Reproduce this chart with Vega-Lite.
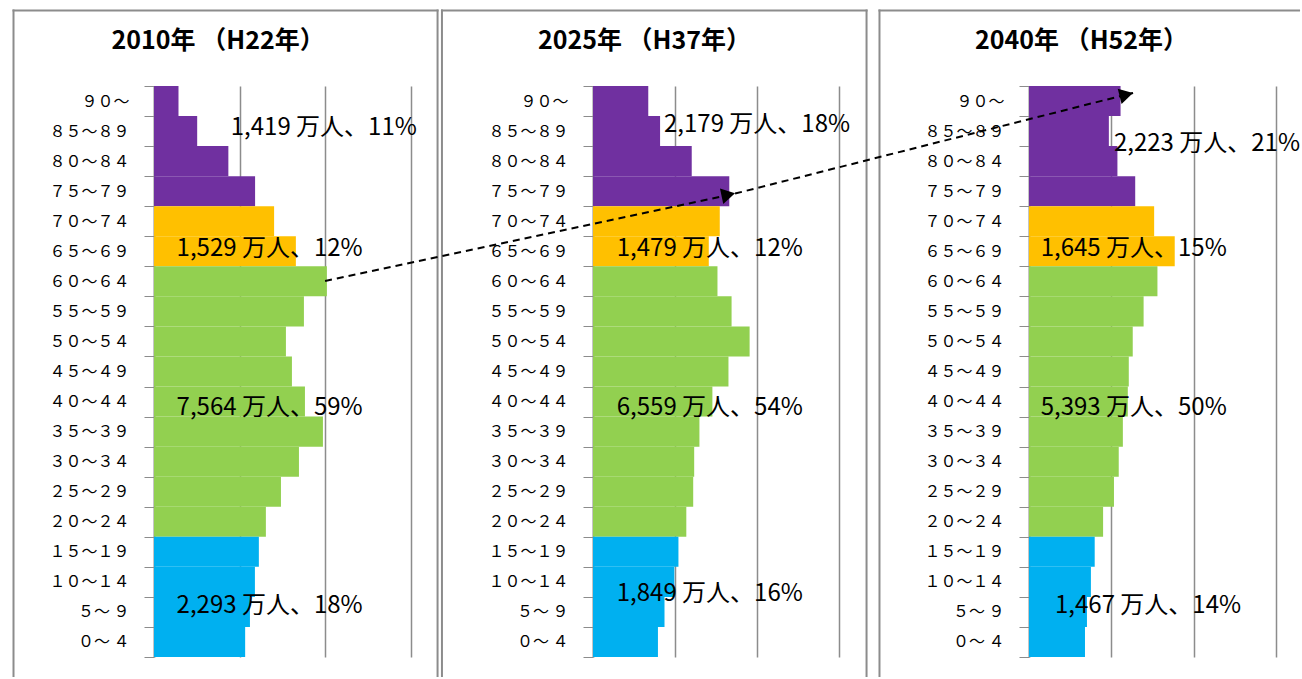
{
  "$schema": "https://vega.github.io/schema/vega-lite/v6.json",
  "padding": {"left": 12, "top": 9, "right": 0, "bottom": 0},
  "background": "white",
  "spacing": 20,
  "bounds": "flush",
  "config": {"view": {"stroke": null}},
  "datasets": {
    "pop": [
      {"year": 2010, "age": "９０～", "g": "75歳以上", "v": 143},
      {"year": 2010, "age": "８５～８９", "g": "75歳以上", "v": 252},
      {"year": 2010, "age": "８０～８４", "g": "75歳以上", "v": 434},
      {"year": 2010, "age": "７５～７９", "g": "75歳以上", "v": 590},
      {"year": 2010, "age": "７０～７４", "g": "65～74歳", "v": 701},
      {"year": 2010, "age": "６５～６９", "g": "65～74歳", "v": 828},
      {"year": 2010, "age": "６０～６４", "g": "20～64歳", "v": 1009},
      {"year": 2010, "age": "５５～５９", "g": "20～64歳", "v": 875},
      {"year": 2010, "age": "５０～５４", "g": "20～64歳", "v": 770},
      {"year": 2010, "age": "４５～４９", "g": "20～64歳", "v": 805},
      {"year": 2010, "age": "４０～４４", "g": "20～64歳", "v": 881},
      {"year": 2010, "age": "３５～３９", "g": "20～64歳", "v": 986},
      {"year": 2010, "age": "３０～３４", "g": "20～64歳", "v": 846},
      {"year": 2010, "age": "２５～２９", "g": "20～64歳", "v": 741},
      {"year": 2010, "age": "２０～２４", "g": "20～64歳", "v": 653},
      {"year": 2010, "age": "１５～１９", "g": "0～19歳", "v": 612},
      {"year": 2010, "age": "１０～１４", "g": "0～19歳", "v": 589},
      {"year": 2010, "age": "５～ ９", "g": "0～19歳", "v": 560},
      {"year": 2010, "age": "０～ ４", "g": "0～19歳", "v": 532},
      {"year": 2025, "age": "９０～", "g": "75歳以上", "v": 337},
      {"year": 2025, "age": "８５～８９", "g": "75歳以上", "v": 409},
      {"year": 2025, "age": "８０～８４", "g": "75歳以上", "v": 602},
      {"year": 2025, "age": "７５～７９", "g": "75歳以上", "v": 831},
      {"year": 2025, "age": "７０～７４", "g": "65～74歳", "v": 773},
      {"year": 2025, "age": "６５～６９", "g": "65～74歳", "v": 706},
      {"year": 2025, "age": "６０～６４", "g": "20～64歳", "v": 759},
      {"year": 2025, "age": "５５～５９", "g": "20～64歳", "v": 845},
      {"year": 2025, "age": "５０～５４", "g": "20～64歳", "v": 955},
      {"year": 2025, "age": "４５～４９", "g": "20～64歳", "v": 826},
      {"year": 2025, "age": "４０～４４", "g": "20～64歳", "v": 728},
      {"year": 2025, "age": "３５～３９", "g": "20～64歳", "v": 649},
      {"year": 2025, "age": "３０～３４", "g": "20～64歳", "v": 617},
      {"year": 2025, "age": "２５～２９", "g": "20～64歳", "v": 611},
      {"year": 2025, "age": "２０～２４", "g": "20～64歳", "v": 569},
      {"year": 2025, "age": "１５～１９", "g": "0～19歳", "v": 521},
      {"year": 2025, "age": "１０～１４", "g": "0～19歳", "v": 496},
      {"year": 2025, "age": "５～ ９", "g": "0～19歳", "v": 436},
      {"year": 2025, "age": "０～ ４", "g": "0～19歳", "v": 396},
      {"year": 2040, "age": "９０～", "g": "75歳以上", "v": 556},
      {"year": 2040, "age": "８５～８９", "g": "75歳以上", "v": 485},
      {"year": 2040, "age": "８０～８４", "g": "75歳以上", "v": 537},
      {"year": 2040, "age": "７５～７９", "g": "75歳以上", "v": 645},
      {"year": 2040, "age": "７０～７４", "g": "65～74歳", "v": 760},
      {"year": 2040, "age": "６５～６９", "g": "65～74歳", "v": 885},
      {"year": 2040, "age": "６０～６４", "g": "20～64歳", "v": 780},
      {"year": 2040, "age": "５５～５９", "g": "20～64歳", "v": 696},
      {"year": 2040, "age": "５０～５４", "g": "20～64歳", "v": 630},
      {"year": 2040, "age": "４５～４９", "g": "20～64歳", "v": 606},
      {"year": 2040, "age": "４０～４４", "g": "20～64歳", "v": 600},
      {"year": 2040, "age": "３５～３９", "g": "20～64歳", "v": 570},
      {"year": 2040, "age": "３０～３４", "g": "20～64歳", "v": 545},
      {"year": 2040, "age": "２５～２９", "g": "20～64歳", "v": 516},
      {"year": 2040, "age": "２０～２４", "g": "20～64歳", "v": 450},
      {"year": 2040, "age": "１５～１９", "g": "0～19歳", "v": 399},
      {"year": 2040, "age": "１０～１４", "g": "0～19歳", "v": 376},
      {"year": 2040, "age": "５～ ９", "g": "0～19歳", "v": 352},
      {"year": 2040, "age": "０～ ４", "g": "0～19歳", "v": 340}
    ],
    "notes": [
      {"year": 2010, "x": 448, "r": 17.6, "label": "1,419 万人、11%"},
      {"year": 2010, "x": 132, "r": 13.58, "label": "1,529 万人、12%"},
      {"year": 2010, "x": 132, "r": 8.3, "label": "7,564 万人、59%"},
      {"year": 2010, "x": 132, "r": 1.7, "label": "2,293 万人、18%"},
      {"year": 2025, "x": 433, "r": 17.7, "label": "2,179 万人、18%"},
      {"year": 2025, "x": 145, "r": 13.58, "label": "1,479 万人、12%"},
      {"year": 2025, "x": 145, "r": 8.3, "label": "6,559 万人、54%"},
      {"year": 2025, "x": 145, "r": 2.1, "label": "1,849 万人、16%"},
      {"year": 2040, "x": 516, "r": 17.07, "label": "2,223 万人、21%"},
      {"year": 2040, "x": 71, "r": 13.58, "label": "1,645 万人、15%"},
      {"year": 2040, "x": 71, "r": 8.3, "label": "5,393 万人、50%"},
      {"year": 2040, "x": 158, "r": 1.7, "label": "1,467 万人、14%"}
    ],
    "titles": [
      {"year": 2010, "x": 374, "r": 20.5, "label": "2010年 （H22年）"},
      {"year": 2025, "x": 314, "r": 20.5, "label": "2025年 （H37年）"},
      {"year": 2040, "x": 319, "r": 20.5, "label": "2040年 （H52年）"}
    ],
    "frames": [
      {"year": 2010, "x": -820, "r": -0.632, "x2": -820, "r2": 21.51},
      {"year": 2010, "x": -820, "r": 21.51, "x2": 1655, "r2": 21.51},
      {"year": 2010, "x": 1655, "r": 21.51, "x2": 1655, "r2": -0.632},
      {"year": 2025, "x": -921, "r": -0.632, "x2": -921, "r2": 21.51},
      {"year": 2025, "x": -921, "r": 21.51, "x2": 1668, "r2": 21.51},
      {"year": 2025, "x": 1668, "r": 21.51, "x2": 1668, "r2": -0.632},
      {"year": 2040, "x": -908, "r": -0.632, "x2": -908, "r2": 21.51},
      {"year": 2040, "x": -908, "r": 21.51, "x2": 1640, "r2": 21.51}
    ],
    "arrow": [
      {"x": -4275, "r": 12.51, "x2": -1785, "r2": 15.42},
      {"x": -1785, "r": 15.42, "x2": 632, "r2": 18.77}
    ]
  },
  "hconcat": [
    {
      "width": 419, "height": 571,
      "resolve": {"scale": {"y": "independent"}},
      "layer": [
        {"data": {"name": "frames"}, "transform": [{"filter": "datum.year == 2010"}],
         "mark": {"type": "rule", "color": "#8c8c8c", "strokeWidth": 2, "strokeCap": "square"},
         "encoding": {
           "x": {"field": "x", "type": "quantitative", "scale": {"domain": [0, 2445.5], "nice": false, "zero": false}, "axis": {"title": null, "labels": false, "ticks": false, "domain": false, "grid": true, "values": [500, 1000, 1500], "gridColor": "#8c8c8c", "gridWidth": 1.5}},
           "x2": {"field": "x2"},
           "y": {"field": "r", "type": "quantitative", "scale": {"domain": [0, 19], "nice": false, "zero": false}, "axis": null},
           "y2": {"field": "r2"}}},
        {"data": {"name": "pop"}, "transform": [{"filter": "datum.year == 2010"}],
         "mark": {"type": "bar"},
         "encoding": {
           "x": {"field": "v", "type": "quantitative", "scale": {"domain": [0, 2445.5], "nice": false, "zero": false}, "axis": {"title": null, "labels": false, "ticks": false, "domain": false, "grid": true, "values": [500, 1000, 1500], "gridColor": "#8c8c8c", "gridWidth": 1.5}},
           "y": {"field": "age", "type": "nominal", "sort": ["９０～", "８５～８９", "８０～８４", "７５～７９", "７０～７４", "６５～６９", "６０～６４", "５５～５９", "５０～５４", "４５～４９", "４０～４４", "３５～３９", "３０～３４", "２５～２９", "２０～２４", "１５～１９", "１０～１４", "５～ ９", "０～ ４"],
                 "scale": {"paddingInner": 0, "paddingOuter": 0},
                 "axis": {"title": null, "tickBand": "extent", "tickSize": 10, "tickColor": "#8c8c8c", "domainColor": "#8c8c8c", "domainWidth": 2, "labelFont": "Noto Sans CJK JP", "labelFontSize": 16, "labelColor": "#000000", "labelPadding": 15}},
           "color": {"field": "g", "type": "nominal", "scale": {"domain": ["75歳以上", "65～74歳", "20～64歳", "0～19歳"], "range": ["#7030A0", "#FFC000", "#92D050", "#00B0F0"]}, "legend": null}}},
        {"data": {"name": "notes"}, "transform": [{"filter": "datum.year == 2010"}],
         "mark": {"type": "text", "align": "left", "baseline": "middle", "font": "Noto Sans CJK JP", "fontSize": 24, "color": "#000000"},
         "encoding": {
           "x": {"field": "x", "type": "quantitative", "scale": {"domain": [0, 2445.5], "nice": false, "zero": false}, "axis": {"title": null, "labels": false, "ticks": false, "domain": false, "grid": true, "values": [500, 1000, 1500], "gridColor": "#8c8c8c", "gridWidth": 1.5}},
           "y": {"field": "r", "type": "quantitative", "scale": {"domain": [0, 19], "nice": false, "zero": false}, "axis": null},
           "text": {"field": "label"}}},
        {"data": {"name": "titles"}, "transform": [{"filter": "datum.year == 2010"}],
         "mark": {"type": "text", "align": "center", "baseline": "middle", "font": "Noto Sans CJK JP", "fontWeight": "bold", "fontSize": 25, "color": "#000000"},
         "encoding": {
           "x": {"field": "x", "type": "quantitative", "scale": {"domain": [0, 2445.5], "nice": false, "zero": false}, "axis": {"title": null, "labels": false, "ticks": false, "domain": false, "grid": true, "values": [500, 1000, 1500], "gridColor": "#8c8c8c", "gridWidth": 1.5}},
           "y": {"field": "r", "type": "quantitative", "scale": {"domain": [0, 19], "nice": false, "zero": false}, "axis": null},
           "text": {"field": "label"}}}
      ]
    },
    {
      "width": 416, "height": 571,
      "resolve": {"scale": {"y": "independent"}},
      "layer": [
        {"data": {"name": "frames"}, "transform": [{"filter": "datum.year == 2025"}],
         "mark": {"type": "rule", "color": "#8c8c8c", "strokeWidth": 2, "strokeCap": "square"},
         "encoding": {
           "x": {"field": "x", "type": "quantitative", "scale": {"domain": [0, 2536.6], "nice": false, "zero": false}, "axis": {"title": null, "labels": false, "ticks": false, "domain": false, "grid": true, "values": [500, 1000, 1500], "gridColor": "#8c8c8c", "gridWidth": 1.5}},
           "x2": {"field": "x2"},
           "y": {"field": "r", "type": "quantitative", "scale": {"domain": [0, 19], "nice": false, "zero": false}, "axis": null},
           "y2": {"field": "r2"}}},
        {"data": {"name": "pop"}, "transform": [{"filter": "datum.year == 2025"}],
         "mark": {"type": "bar"},
         "encoding": {
           "x": {"field": "v", "type": "quantitative", "scale": {"domain": [0, 2536.6], "nice": false, "zero": false}, "axis": {"title": null, "labels": false, "ticks": false, "domain": false, "grid": true, "values": [500, 1000, 1500], "gridColor": "#8c8c8c", "gridWidth": 1.5}},
           "y": {"field": "age", "type": "nominal", "sort": ["９０～", "８５～８９", "８０～８４", "７５～７９", "７０～７４", "６５～６９", "６０～６４", "５５～５９", "５０～５４", "４５～４９", "４０～４４", "３５～３９", "３０～３４", "２５～２９", "２０～２４", "１５～１９", "１０～１４", "５～ ９", "０～ ４"],
                 "scale": {"paddingInner": 0, "paddingOuter": 0},
                 "axis": {"title": null, "tickBand": "extent", "tickSize": 10, "tickColor": "#8c8c8c", "domainColor": "#8c8c8c", "domainWidth": 2, "labelFont": "Noto Sans CJK JP", "labelFontSize": 16, "labelColor": "#000000", "labelPadding": 15}},
           "color": {"field": "g", "type": "nominal", "scale": {"domain": ["75歳以上", "65～74歳", "20～64歳", "0～19歳"], "range": ["#7030A0", "#FFC000", "#92D050", "#00B0F0"]}, "legend": null}}},
        {"data": {"name": "notes"}, "transform": [{"filter": "datum.year == 2025"}],
         "mark": {"type": "text", "align": "left", "baseline": "middle", "font": "Noto Sans CJK JP", "fontSize": 24, "color": "#000000"},
         "encoding": {
           "x": {"field": "x", "type": "quantitative", "scale": {"domain": [0, 2536.6], "nice": false, "zero": false}, "axis": {"title": null, "labels": false, "ticks": false, "domain": false, "grid": true, "values": [500, 1000, 1500], "gridColor": "#8c8c8c", "gridWidth": 1.5}},
           "y": {"field": "r", "type": "quantitative", "scale": {"domain": [0, 19], "nice": false, "zero": false}, "axis": null},
           "text": {"field": "label"}}},
        {"data": {"name": "titles"}, "transform": [{"filter": "datum.year == 2025"}],
         "mark": {"type": "text", "align": "center", "baseline": "middle", "font": "Noto Sans CJK JP", "fontWeight": "bold", "fontSize": 25, "color": "#000000"},
         "encoding": {
           "x": {"field": "x", "type": "quantitative", "scale": {"domain": [0, 2536.6], "nice": false, "zero": false}, "axis": {"title": null, "labels": false, "ticks": false, "domain": false, "grid": true, "values": [500, 1000, 1500], "gridColor": "#8c8c8c", "gridWidth": 1.5}},
           "y": {"field": "r", "type": "quantitative", "scale": {"domain": [0, 19], "nice": false, "zero": false}, "axis": null},
           "text": {"field": "label"}}}
      ]
    },
    {
      "width": 270, "height": 571,
      "resolve": {"scale": {"y": "independent"}},
      "layer": [
        {"data": {"name": "frames"}, "transform": [{"filter": "datum.year == 2040"}],
         "mark": {"type": "rule", "color": "#8c8c8c", "strokeWidth": 2, "strokeCap": "square"},
         "encoding": {
           "x": {"field": "x", "type": "quantitative", "scale": {"domain": [0, 1639.7], "nice": false, "zero": false}, "axis": {"title": null, "labels": false, "ticks": false, "domain": false, "grid": true, "values": [500, 1000, 1500], "gridColor": "#8c8c8c", "gridWidth": 1.5}},
           "x2": {"field": "x2"},
           "y": {"field": "r", "type": "quantitative", "scale": {"domain": [0, 19], "nice": false, "zero": false}, "axis": null},
           "y2": {"field": "r2"}}},
        {"data": {"name": "pop"}, "transform": [{"filter": "datum.year == 2040"}],
         "mark": {"type": "bar"},
         "encoding": {
           "x": {"field": "v", "type": "quantitative", "scale": {"domain": [0, 1639.7], "nice": false, "zero": false}, "axis": {"title": null, "labels": false, "ticks": false, "domain": false, "grid": true, "values": [500, 1000, 1500], "gridColor": "#8c8c8c", "gridWidth": 1.5}},
           "y": {"field": "age", "type": "nominal", "sort": ["９０～", "８５～８９", "８０～８４", "７５～７９", "７０～７４", "６５～６９", "６０～６４", "５５～５９", "５０～５４", "４５～４９", "４０～４４", "３５～３９", "３０～３４", "２５～２９", "２０～２４", "１５～１９", "１０～１４", "５～ ９", "０～ ４"],
                 "scale": {"paddingInner": 0, "paddingOuter": 0},
                 "axis": {"title": null, "tickBand": "extent", "tickSize": 10, "tickColor": "#8c8c8c", "domainColor": "#8c8c8c", "domainWidth": 2, "labelFont": "Noto Sans CJK JP", "labelFontSize": 16, "labelColor": "#000000", "labelPadding": 15}},
           "color": {"field": "g", "type": "nominal", "scale": {"domain": ["75歳以上", "65～74歳", "20～64歳", "0～19歳"], "range": ["#7030A0", "#FFC000", "#92D050", "#00B0F0"]}, "legend": null}}},
        {"data": {"name": "notes"}, "transform": [{"filter": "datum.year == 2040"}],
         "mark": {"type": "text", "align": "left", "baseline": "middle", "font": "Noto Sans CJK JP", "fontSize": 24, "color": "#000000"},
         "encoding": {
           "x": {"field": "x", "type": "quantitative", "scale": {"domain": [0, 1639.7], "nice": false, "zero": false}, "axis": {"title": null, "labels": false, "ticks": false, "domain": false, "grid": true, "values": [500, 1000, 1500], "gridColor": "#8c8c8c", "gridWidth": 1.5}},
           "y": {"field": "r", "type": "quantitative", "scale": {"domain": [0, 19], "nice": false, "zero": false}, "axis": null},
           "text": {"field": "label"}}},
        {"data": {"name": "titles"}, "transform": [{"filter": "datum.year == 2040"}],
         "mark": {"type": "text", "align": "center", "baseline": "middle", "font": "Noto Sans CJK JP", "fontWeight": "bold", "fontSize": 25, "color": "#000000"},
         "encoding": {
           "x": {"field": "x", "type": "quantitative", "scale": {"domain": [0, 1639.7], "nice": false, "zero": false}, "axis": {"title": null, "labels": false, "ticks": false, "domain": false, "grid": true, "values": [500, 1000, 1500], "gridColor": "#8c8c8c", "gridWidth": 1.5}},
           "y": {"field": "r", "type": "quantitative", "scale": {"domain": [0, 19], "nice": false, "zero": false}, "axis": null},
           "text": {"field": "label"}}},
        {"data": {"name": "arrow"},
         "mark": {"type": "rule", "color": "#000000", "strokeWidth": 2, "strokeDash": [7, 5]},
         "encoding": {
           "x": {"field": "x", "type": "quantitative", "scale": {"domain": [0, 1639.7], "nice": false, "zero": false}, "axis": {"title": null, "labels": false, "ticks": false, "domain": false, "grid": true, "values": [500, 1000, 1500], "gridColor": "#8c8c8c", "gridWidth": 1.5}},
           "x2": {"field": "x2"},
           "y": {"field": "r", "type": "quantitative", "scale": {"domain": [0, 19], "nice": false, "zero": false}, "axis": null},
           "y2": {"field": "r2"}}},
        {"data": {"values": [{"x": -1826, "r": 15.38}]},
         "mark": {"type": "point", "shape": "triangle-right", "filled": true, "opacity": 1, "color": "#000000", "size": 250, "angle": 348},
         "encoding": {
           "x": {"field": "x", "type": "quantitative", "scale": {"domain": [0, 1639.7], "nice": false, "zero": false}, "axis": {"title": null, "labels": false, "ticks": false, "domain": false, "grid": true, "values": [500, 1000, 1500], "gridColor": "#8c8c8c", "gridWidth": 1.5}},
           "y": {"field": "r", "type": "quantitative", "scale": {"domain": [0, 19], "nice": false, "zero": false}, "axis": null}}},
        {"data": {"values": [{"x": 591, "r": 18.71}]},
         "mark": {"type": "point", "shape": "triangle-right", "filled": true, "opacity": 1, "color": "#000000", "size": 250, "angle": 346},
         "encoding": {
           "x": {"field": "x", "type": "quantitative", "scale": {"domain": [0, 1639.7], "nice": false, "zero": false}, "axis": {"title": null, "labels": false, "ticks": false, "domain": false, "grid": true, "values": [500, 1000, 1500], "gridColor": "#8c8c8c", "gridWidth": 1.5}},
           "y": {"field": "r", "type": "quantitative", "scale": {"domain": [0, 19], "nice": false, "zero": false}, "axis": null}}}
      ]
    }
  ]
}
